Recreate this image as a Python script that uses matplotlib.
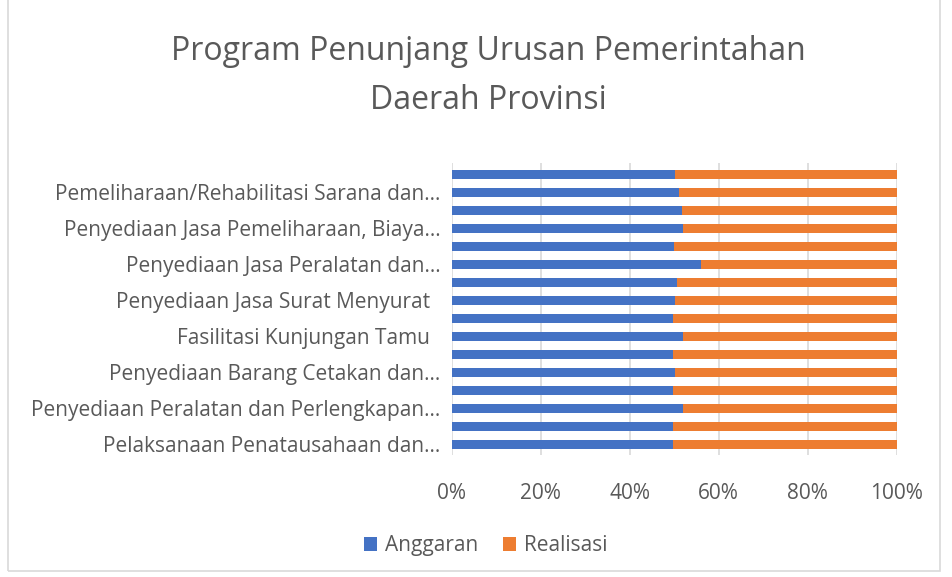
import matplotlib.pyplot as plt
from matplotlib.patches import Rectangle

# Program labels, bottom to top (only every other bar is labelled in the original)
labels = [
    'Pelaksanaan Penatausahaan dan...', '',
    'Penyediaan Peralatan dan Perlengkapan...', '',
    'Penyediaan Barang Cetakan dan...', '',
    'Fasilitasi Kunjungan Tamu  ', '',
    'Penyediaan Jasa Surat Menyurat  ', '',
    'Penyediaan Jasa Peralatan dan...', '',
    'Penyediaan Jasa Pemeliharaan, Biaya...', '',
    'Pemeliharaan/Rehabilitasi Sarana dan...', '',
]

# share of each bar in percent, bottom to top
anggaran = [49.7, 49.7, 51.9, 49.7, 50.2, 49.7, 52.0, 49.7,
            50.2, 50.7, 56.0, 49.9, 51.9, 51.8, 51.0, 50.1]
realisasi = [50.3, 50.3, 48.1, 50.3, 49.8, 50.3, 48.0, 50.3,
             49.8, 49.3, 44.0, 50.1, 48.1, 48.2, 49.0, 49.9]
xticks = [0, 20, 40, 60, 80, 100]

plt.rcParams['font.family'] = ['Open Sans', 'DejaVu Sans']

fig = plt.figure(figsize=(9.53, 5.77), dpi=100)
ax = fig.add_axes([0.474, 0.211, 0.467, 0.506])

pos = list(range(len(labels)))
ax.barh(pos, anggaran, height=0.5, color='#4472C4', label='Anggaran', zorder=3)
ax.barh(pos, realisasi, left=anggaran, height=0.5, color='#ED7D31', label='Realisasi', zorder=3)

ax.set_xlim(0, 100)
ax.set_ylim(-0.6, len(labels) - 0.4)
ax.set_xticks(xticks)
ax.set_xticklabels([f'{t}%' for t in xticks], fontsize=15, color='#595959')
ax.set_yticks(pos)
ax.set_yticklabels(labels, fontsize=15, color='#595959')
ax.tick_params(length=0, pad=8)
ax.tick_params(axis='x', pad=20)
ax.grid(axis='x', color='#d9d9d9', linewidth=1.2, zorder=0)
for s in ax.spines.values():
    s.set_visible(False)

fig.text(0.512, 0.91, 'Program Penunjang Urusan Pemerintahan', ha='center', va='center',
         fontsize=23, color='#595959')
fig.text(0.512, 0.826, 'Daerah Provinsi', ha='center', va='center',
         fontsize=23, color='#595959')

fig.legend(loc='center', bbox_to_anchor=(0.51, 0.054), ncol=2, frameon=False,
           fontsize=15, handlelength=0.6, handleheight=0.6, columnspacing=1.2,
           handletextpad=0.4, labelcolor='#595959')

fig.patches.append(Rectangle((0.008, 0.01), 0.978, 1.0, transform=fig.transFigure,
                             fill=False, edgecolor='#d9d9d9', linewidth=1.2))

fig.savefig('out.png', dpi=100)
